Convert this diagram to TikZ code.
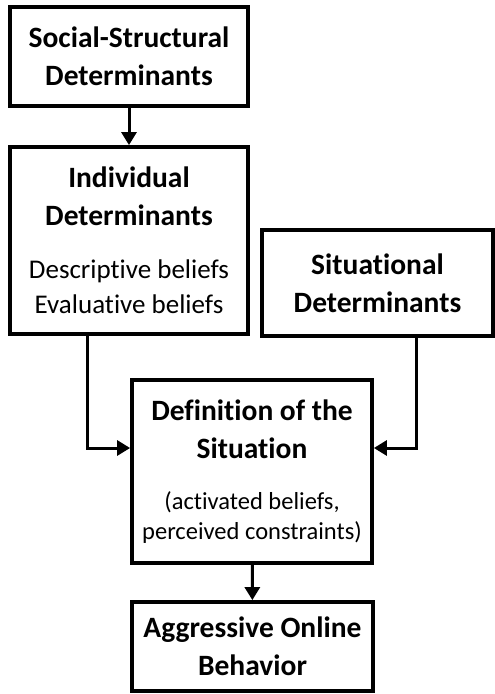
\documentclass[tikz,border=0pt]{standalone}
\usepackage{fontspec}
\setmainfont{Carlito}[Ligatures=NoCommon]
\usetikzlibrary{arrows.meta}

\newcommand{\plainline}[2]{{\fontsize{#1}{#1}\selectfont\mdseries #2}}

\begin{document}
\begin{tikzpicture}[
   x=1pt, y=-1pt,
   box/.style={draw, line width=3.8pt, align=center, inner sep=0pt,
               font=\fontsize{29.5}{38}\selectfont\bfseries},
   flow/.style={-{Triangle[length=13pt,width=15pt]}, line width=3pt},
]
\useasboundingbox (0,0) rectangle (495,694);

% --- boxes (centres at pixel positions)
\node[box, minimum width=238pt, minimum height=99pt] (social) at (129,56.5)
   {Social-Structural\\Determinants};

\node[box, minimum width=238pt, minimum height=187pt] (indiv) at (129,240.5)
   {Individual\\Determinants\\[15pt]
    \plainline{27}{Descriptive beliefs}\\[-3pt]
    \plainline{27}{Evaluative beliefs}};

\node[box, minimum width=231pt, minimum height=106pt] (situ) at (377.5,283)
   {Situational\\Determinants};

\node[box, minimum width=240pt, minimum height=183pt] (defin) at (252,471.5)
   {Definition of the\\Situation\\[13pt]
    \plainline{24.5}{(activated beliefs,}\\[-8pt]
    \plainline{24.5}{perceived constraints)}};

\node[box, minimum width=241pt, minimum height=89pt] (behav) at (252.5,646.5)
   {Aggressive Online\\Behavior};

% --- connectors
\coordinate (indivdown) at (87,448);
\coordinate (situdown) at (416,448);

\draw[flow] (social) -- (indiv);
\draw[flow] (indiv.south -| indivdown) |- (defin.west |- indivdown);
\draw[flow] (situ.south -| situdown) |- (defin.east |- situdown);
\draw[flow] (defin) -- (behav);

\end{tikzpicture}
\end{document}
